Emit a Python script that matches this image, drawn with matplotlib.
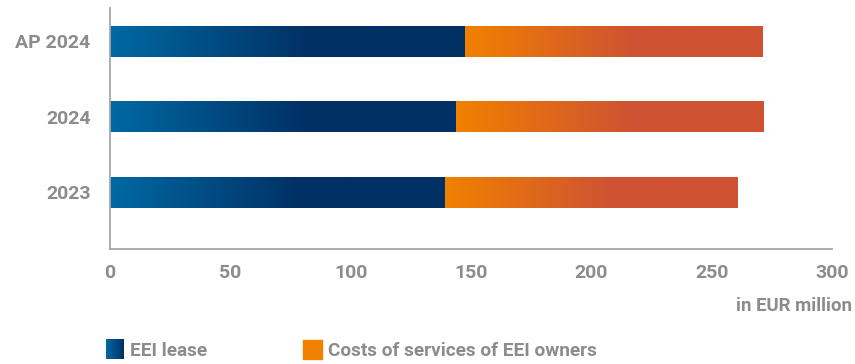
import matplotlib
matplotlib.use("Agg")
import matplotlib.pyplot as plt
import numpy as np
from matplotlib.colors import LinearSegmentedColormap
from matplotlib.patches import Rectangle

# data, EUR million
categories = ["2023", "2024", "AP 2024"]
eei_lease = [139.0, 143.9, 147.3]
service_costs = [121.6, 127.6, 123.7]
series_names = ["EEI lease", "Costs of services of EEI owners"]
x_ticks = [0, 50, 100, 150, 200, 250, 300]

GRAY = "#8c8c8c"
AXIS = "#a6a6a6"
blue_cmap = LinearSegmentedColormap.from_list(
    "blue", [(0, "#0069a3"), (0.57, "#003064"), (1, "#003064")])
orange_cmap = LinearSegmentedColormap.from_list(
    "orange", [(0, "#f08100"), (0.57, "#cf5233"), (1, "#cf5233")])

plt.rcParams["font.family"] = ["Roboto", "DejaVu Sans"]
plt.rcParams["font.weight"] = "bold"

W, H = 855, 364
fig = plt.figure(figsize=(W / 100, H / 100), dpi=100)
ax = fig.add_axes([110 / W, 1 - 249 / H, 722 / W, 241 / H])

grad = np.linspace(0, 1, 256).reshape(1, -1)
bar_h = 0.41


def gradient_bar(y, left, width, cmap):
    ax.imshow(grad, cmap=cmap, aspect="auto", interpolation="bilinear",
              extent=(left, left + width, y - bar_h / 2, y + bar_h / 2),
              zorder=2)


for i, cat in enumerate(categories):
    gradient_bar(i, 0, eei_lease[i], blue_cmap)
    gradient_bar(i, eei_lease[i], service_costs[i], orange_cmap)

ax.set_xlim(0, 300)
ax.set_ylim(-0.755, 2.444)
ax.set_xticks(x_ticks)
ax.set_xticklabels([str(t) for t in x_ticks])
ax.set_yticks(range(len(categories)))
ax.set_yticklabels(categories)
ax.tick_params(axis="both", length=0, labelcolor=GRAY, labelsize=14)
ax.tick_params(axis="x", pad=11)
ax.tick_params(axis="y", pad=14)
for s in ["top", "right"]:
    ax.spines[s].set_visible(False)
for s in ["left", "bottom"]:
    ax.spines[s].set_color(AXIS)
    ax.spines[s].set_linewidth(1.3)

fig.text(852 / W, 1 - 306 / H, "in EUR million", ha="right", va="center",
         color=GRAY, fontsize=13.4)

# legend: gradient square for the lease, flat square for the services
lax = fig.add_axes([106 / W, 1 - 359 / H, 18 / W, 20 / H])
lax.imshow(grad, cmap=LinearSegmentedColormap.from_list(
    "lb", ["#0069a3", "#003064"]), aspect="auto")
lax.set_axis_off()
fig.patches.append(Rectangle((303 / W, 1 - 359 / H), 19 / W, 19 / H,
                             transform=fig.transFigure, color="#f08100"))
fig.text(130 / W, 1 - 351 / H, series_names[0], ha="left", va="center",
         color=GRAY, fontsize=13.7)
fig.text(328 / W, 1 - 351 / H, series_names[1], ha="left", va="center",
         color=GRAY, fontsize=13.7)

fig.savefig("out.png", dpi=100)
